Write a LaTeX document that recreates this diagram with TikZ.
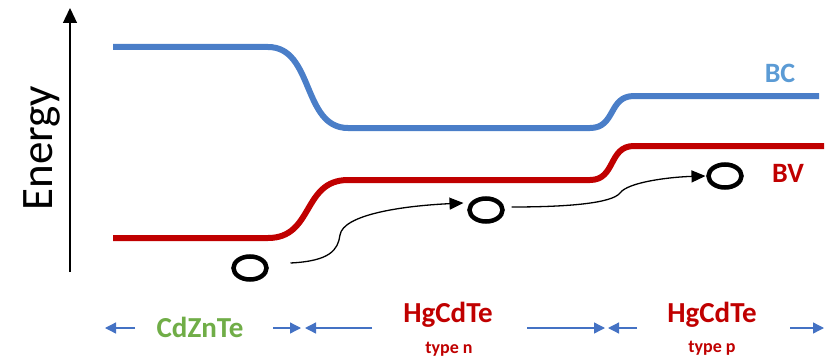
\documentclass[tikz,border=0pt]{standalone}
\usepackage{fontspec}
\setmainfont{Carlito}
\usetikzlibrary{arrows.meta,shapes.geometric}
\definecolor{bandblue}{HTML}{4A7EC8}
\definecolor{labelblue}{HTML}{5B9BD5}
\definecolor{bandred}{HTML}{C00000}
\definecolor{zonegreen}{HTML}{70AD47}
\definecolor{dimblue}{HTML}{4472C4}
\tikzset{
  x=1pt, y=-1pt,
  band/.style={line width=6pt},
  hole/.style={ellipse, draw, line width=4.5pt, minimum width=33pt, minimum height=23pt, inner sep=0pt, outer sep=0pt},
  flow/.style={line width=1.3pt, -{Triangle[length=14pt,width=12pt]}},
  dimarrow/.style={dimblue, line width=1.3pt, -{Triangle[length=11pt,width=11pt]}},
  zone/.style={font=\bfseries\fontsize{29}{30}\selectfont, anchor=base, bandred},
  ztype/.style={font=\bfseries\fontsize{18}{20}\selectfont, anchor=base, bandred},
  bandlabel/.style={font=\bfseries\fontsize{28}{30}\selectfont, anchor=base}
}
\begin{document}
\begin{tikzpicture}
\useasboundingbox (0,0) rectangle (837,361);

% energy axis
\coordinate (ax0) at (70,272);
\coordinate (ax1) at (70,8);
\draw[line width=1.3pt, -{Triangle[length=15pt,width=14pt]}] (ax0) -- (ax1);
\node[rotate=90, font=\fontsize{45}{46}\selectfont] (energy) at (42,148) {Energy};

% conduction band
\draw[band, bandblue] (113,47) -- (268,47)
  .. controls (314,47) and (302,128) .. (348,128) -- (590,128)
  .. controls (616,128) and (608,96) .. (634,96) -- (819,96);
% valence band
\draw[band, bandred] (113,238) -- (268,238)
  .. controls (314,238) and (302,180) .. (348,180) -- (590,180)
  .. controls (616,180) and (608,146) .. (634,146) -- (824,146);

\node[bandlabel, labelblue] (bc) at (780,82) {BC};
\node[bandlabel, bandred] (bv) at (788,182) {BV};

% holes
\node[hole] (h1) at (250,268) {};
\node[hole] (h2) at (486,210) {};
\node[hole] (h3) at (725,176) {};

% hole transport
\draw[flow] ([xshift=24pt,yshift=5pt]h1.east)
  .. controls (330,261) and (338,250) .. (340,235)
  .. controls (343,215) and (400,206) .. ([xshift=-6pt,yshift=7pt]h2.west);
\draw[flow] ([xshift=9pt,yshift=3pt]h2.east)
  .. controls (570,207) and (612,203) .. (620,193)
  .. controls (628,182) and (670,177) .. ([xshift=-3pt]h3.west);

% regions
\node[zone, zonegreen] (cz) at (200,337) {CdZnTe};
\node[zone] (hgn) at (448,322) {HgCdTe};
\node[ztype] (tn) at (449,353) {type n};
\node[zone] (hgp) at (712,322) {HgCdTe};
\node[ztype] (tp) at (712,352) {type p};

\coordinate (b0) at (105,328);
\coordinate (s0) at (135,328);
\coordinate (b1r) at (301,328);
\coordinate (s1r) at (273,328);
\coordinate (b1l) at (305,328);
\coordinate (s1l) at (372,328);
\coordinate (b2r) at (605,328);
\coordinate (s2r) at (527,328);
\coordinate (b2l) at (608,328);
\coordinate (s2l) at (637,328);
\coordinate (b3) at (824,328);
\coordinate (s3) at (790,328);
\draw[dimarrow] (s0) -- (b0);
\draw[dimarrow] (s1r) -- (b1r);
\draw[dimarrow] (s1l) -- (b1l);
\draw[dimarrow] (s2r) -- (b2r);
\draw[dimarrow] (s2l) -- (b2l);
\draw[dimarrow] (s3) -- (b3);
\end{tikzpicture}
\end{document}
